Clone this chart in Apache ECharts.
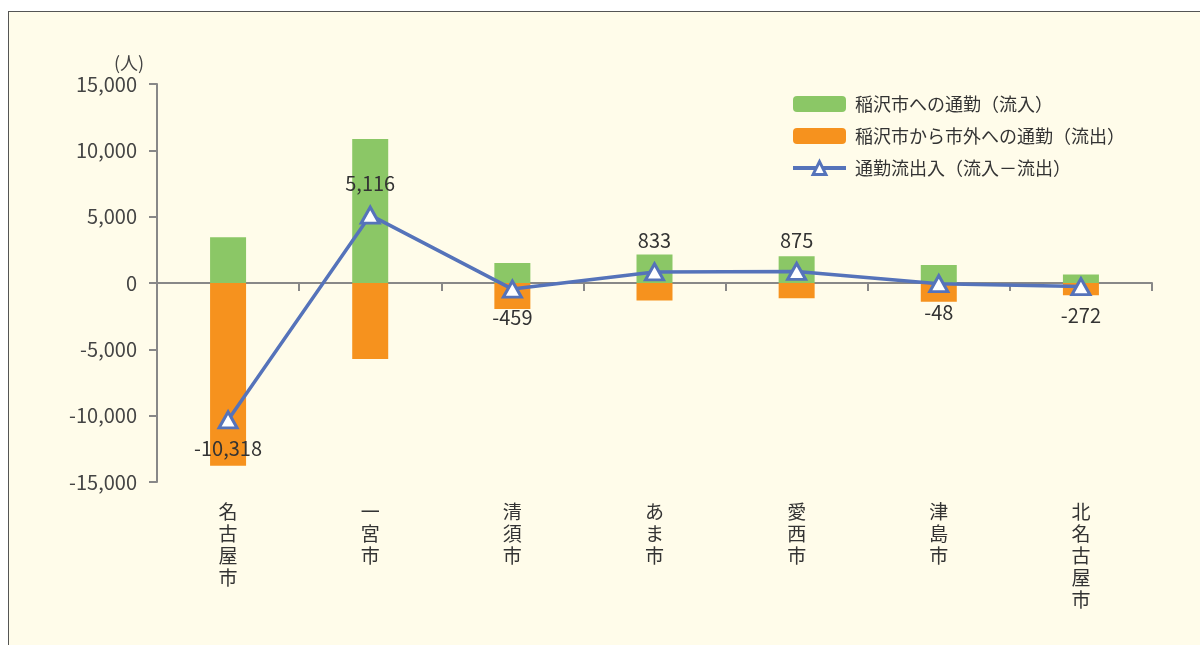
<!DOCTYPE html>
<html>
<head>
<meta charset="utf-8">
<script src="https://cdn.jsdelivr.net/npm/echarts@6/dist/echarts.min.js"></script>
<style>
  html, body { margin: 0; padding: 0; background: #fff; overflow: hidden; }
  #frame { position: absolute; left: 8px; top: 11px; width: 1300px; height: 700px;
           border: 1px solid #555; background: #fffcea; }
  #main { position: absolute; left: 0; top: 0; width: 1200px; height: 645px; }
</style>
</head>
<body>
<div id="frame"></div>
<div id="main"></div>
<script>
// 市町村
var cities = ['名古屋市', '一宮市', '清須市', 'あま市', '愛西市', '津島市', '北名古屋市'];
// 稲沢市への通勤（流入）
var inflow = [3450, 10850, 1500, 2150, 2020, 1360, 650];
// 稲沢市から市外への通勤（流出）※下向きに描く
var outflow = [-13768, -5734, -1959, -1317, -1145, -1408, -922];
// 通勤流出入（流入－流出）
var net = [-10318, 5116, -459, 833, 875, -48, -272];
var yTicks = { min: -15000, max: 15000, interval: 5000 };

var font = "'Noto Sans CJK JP', 'Noto Sans', sans-serif";
var axisColor = '#888';
var textColor = '#333';
var lineColor = '#5573ba';

function fmt(v) {
  return String(v).replace(/\B(?=(\d{3})+(?!\d))/g, ',');
}

var myChart = echarts.init(document.getElementById('main'));
myChart.setOption({
  backgroundColor: 'transparent',
  textStyle: { fontFamily: font },
  grid: { left: 157, right: 48, top: 84, bottom: 163 },
  legend: {
    orient: 'vertical',
    left: 786, top: 90,
    itemWidth: 53, itemHeight: 16, itemGap: 14,
    textStyle: { fontSize: 18, color: textColor, fontFamily: font, padding: [0, 0, 0, 4] },
    data: [
      '稲沢市への通勤（流入）',
      '稲沢市から市外への通勤（流出）',
      {
        name: '通勤流出入（流入－流出）',
        lineStyle: { width: 4, color: lineColor },
        itemStyle: { color: '#fff', borderColor: lineColor, borderWidth: 3 }
      }
    ]
  },
  graphic: [{
    type: 'text', left: 114, top: 54,
    style: { text: '(人)', fontSize: 18, fill: '#444', fontFamily: font }
  }],
  xAxis: [{
    type: 'category',
    data: cities,
    axisLine: { onZero: true, lineStyle: { color: axisColor, width: 2 } },
    axisTick: { show: true, inside: false, length: 8, lineStyle: { color: axisColor, width: 2 } },
    axisLabel: { show: false }
  }, {
    type: 'category',
    data: cities,
    position: 'bottom',
    axisLine: { show: false, onZero: false },
    axisTick: { show: false },
    axisLabel: {
      margin: 19,
      fontSize: 19, color: textColor, lineHeight: 22, verticalAlign: 'top',
      formatter: function (v) { return v.split('').join('\n'); }
    }
  }],
  yAxis: {
    type: 'value',
    min: yTicks.min, max: yTicks.max, interval: yTicks.interval,
    axisLine: { show: true, lineStyle: { color: axisColor, width: 2 } },
    axisTick: { show: true, length: 8, lineStyle: { color: axisColor, width: 2 } },
    splitLine: { show: false },
    axisLabel: { fontSize: 20, color: '#444', margin: 20, formatter: function (v) { return fmt(v); } }
  },
  series: [{
    name: '稲沢市への通勤（流入）',
    type: 'bar', stack: 'flow', barWidth: 36,
    itemStyle: { color: '#8bc766' },
    data: inflow
  }, {
    name: '稲沢市から市外への通勤（流出）',
    type: 'bar', stack: 'flow', barWidth: 36,
    itemStyle: { color: '#f6921e' },
    data: outflow
  }, {
    name: '通勤流出入（流入－流出）',
    type: 'line',
    symbol: 'triangle', symbolSize: [18, 16],
    lineStyle: { color: lineColor, width: 3.5 },
    itemStyle: { color: '#fff', borderColor: lineColor, borderWidth: 3 },
    label: {
      show: true, fontSize: 20, color: textColor,
      formatter: function (p) { return fmt(p.value); }
    },
    data: net.map(function (v) {
      return { value: v, label: { position: v >= 0 ? 'top' : 'bottom', distance: v >= 0 ? 12 : 9 } };
    }),
    z: 5
  }]
});
</script>
</body>
</html>
